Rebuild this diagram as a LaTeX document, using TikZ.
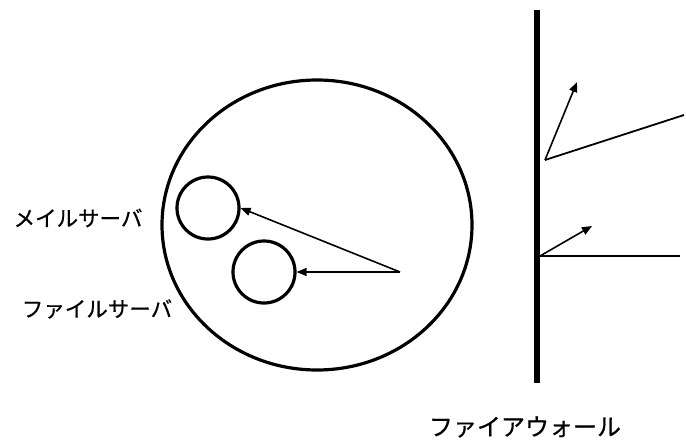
\documentclass[tikz,border=0pt]{standalone}
\usepackage{fontspec}
\newfontfamily\jp[FakeBold=0.6]{Noto Sans CJK JP}
\usetikzlibrary{arrows.meta}
\begin{document}
\begin{tikzpicture}[x=1pt,y=-1pt,
  thick line/.style={line width=3.2pt},
  conn/.style={line width=1.6pt,-{Triangle[length=10pt,width=8pt]}},
  plain/.style={line width=1.8pt},
  lbl/.style={font=\jp\fontsize{21.5}{24}\selectfont,inner sep=0pt},
  biglbl/.style={font=\jp\fontsize{24}{28}\selectfont,inner sep=0pt},
  srv/.style={circle,draw,line width=3.2pt,minimum size=62pt,inner sep=0pt}]
\useasboundingbox (0,0) rectangle (686,445);
% network ellipse
\draw[thick line] (317,225) ellipse [x radius=155, y radius=145];
% servers
\node[srv] (mail) at (208,208) {};
\node[srv] (file) at (264,272) {};
\coordinate (src) at (400,272);
\draw[conn] (src) -- (mail.east);
\draw[conn] (src) -- (file.east);
% labels
\node[lbl] (lmail) at (78,218) {メイルサーバ};
\node[lbl] (lfile) at (97,309) {ファイルサーバ};
% firewall
\coordinate (fwtop) at (537,10);
\coordinate (fwbot) at (537,383);
\draw[line width=5.5pt] (fwtop) -- (fwbot);
\node[biglbl] (lfw) at (525,427) {ファイアウォール};
% reflected connections
\coordinate (v1) at (545,160);
\coordinate (in1) at (684,115);
\coordinate (out1) at (577,82);
\draw[plain] (in1) -- (v1);
\draw[conn] (v1) -- (out1);
\coordinate (v2) at (540,256);
\coordinate (in2) at (680,256);
\coordinate (out2) at (592,226);
\draw[plain] (in2) -- (v2);
\draw[conn] (v2) -- (out2);
\end{tikzpicture}
\end{document}
